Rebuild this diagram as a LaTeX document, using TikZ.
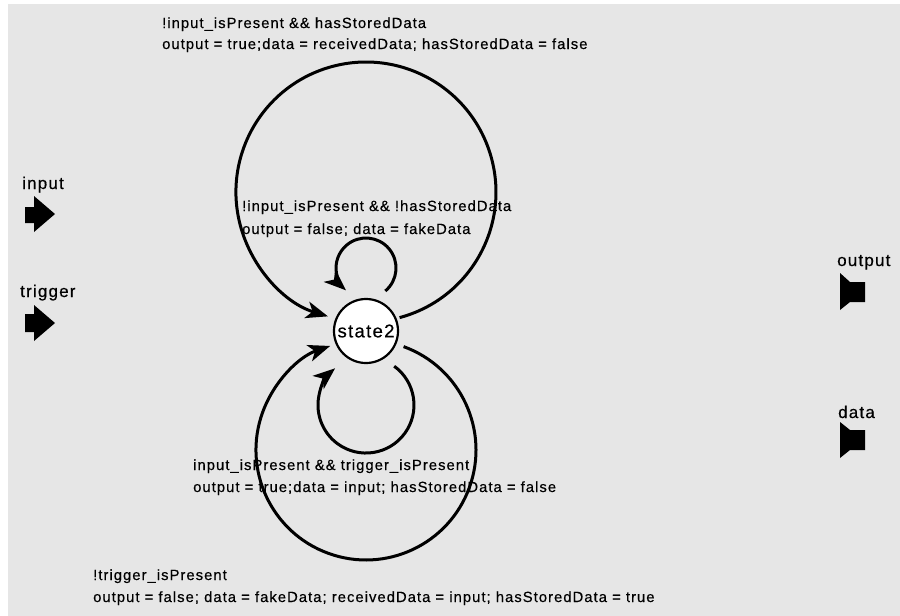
\documentclass[tikz,border=0pt]{standalone}
\usepackage{fontspec}
\setmainfont{Liberation Sans}
\newfontfamily\guardfont{Liberation Sans}[LetterSpace=7,FakeBold=0.4]
\usetikzlibrary{arrows.meta}
\definecolor{canvas}{RGB}{230,230,230}
\begin{document}
\begin{tikzpicture}[x=1pt,y=1pt,
  guard/.style={anchor=base west,inner sep=0pt,font=\guardfont\fontsize{14.8}{17}\selectfont},
  portlabel/.style={anchor=base west,inner sep=0pt,font=\guardfont\fontsize{17}{20}\selectfont},
  statenode/.style={circle,draw,fill=white,line width=2.2pt,minimum size=64pt,inner sep=0pt,
    font=\guardfont\fontsize{18.5}{20}\selectfont},
  edge/.style={line width=3pt,-{Stealth[length=22pt,width=17pt,inset=6pt]}}]
\useasboundingbox (0,0) rectangle (900,-616);
\fill[white] (0,0) rectangle (900,-616);
\fill[canvas] (8,-4) rectangle (900,-616);

% the single state
\node[statenode] (s) at (366,-331) {state2};

% transitions (self loops on state2)
\draw[edge] ([shift={(33.6,13.4)}]s.center) arc[start angle=-75, end angle=253, radius=130];
\draw[edge] ([shift={(19.3,40)}]s.center) arc[start angle=-50, end angle=228, radius=30];
\draw[edge] ([shift={(28.2,-35.2)}]s.center) arc[start angle=54, end angle=-230, radius=48];
\draw[edge] ([shift={(37.6,-15.6)}]s.center) arc[start angle=70, end angle=-251, radius=110];

% transition guards and actions
\node[guard] (g1a) at (162,-28) {!input\_isPresent \&\& hasStoredData};
\node[guard] (g1b) at (162,-49) {output = true;data = receivedData; hasStoredData = false};
\node[guard] (g2a) at (242,-211) {!input\_isPresent \&\& !hasStoredData};
\node[guard] (g2b) at (242,-234) {output = false; data = fakeData};
\node[guard] (g3a) at (193,-470) {input\_isPresent \&\& trigger\_isPresent};
\node[guard] (g3b) at (193,-492) {output = true;data = input; hasStoredData = false};
\node[guard] (g4a) at (93,-580) {!trigger\_isPresent};
\node[guard] (g4b) at (93,-602) {output = false; data = fakeData; receivedData = input; hasStoredData = true};

% input ports
\node[portlabel] (pin) at (22,-189) {input};
\fill (25,-207) -- (34,-207) -- (34,-196) -- (55,-214) -- (34,-232) -- (34,-223) -- (25,-223) -- cycle;
\node[portlabel] (ptr) at (20,-297) {trigger};
\fill (25,-314) -- (34,-314) -- (34,-305) -- (55,-323) -- (34,-341) -- (34,-332) -- (25,-332) -- cycle;

% output ports
\node[portlabel] (pout) at (837,-266) {output};
\fill (840,-273) -- (850,-282) -- (865,-282) -- (865,-302) -- (850,-302) -- (840,-310) -- cycle;
\node[portlabel] (pdat) at (838,-418) {data};
\fill (840,-422) -- (850,-430) -- (865,-430) -- (865,-450) -- (850,-450) -- (840,-458) -- cycle;
\end{tikzpicture}
\end{document}
